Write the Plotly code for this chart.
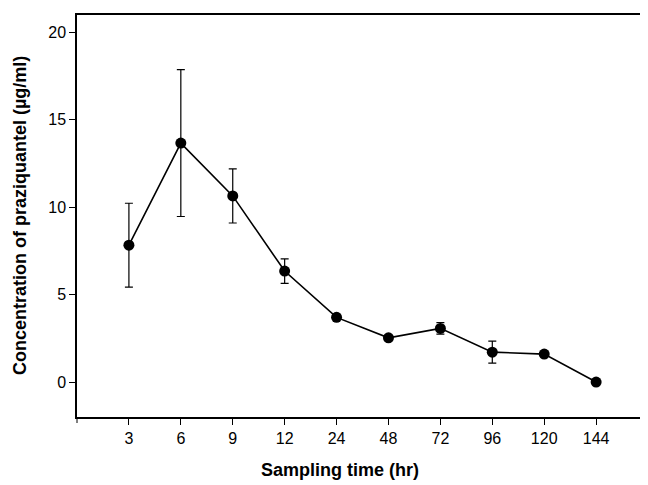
import plotly.graph_objects as go

times = ["3", "6", "9", "12", "24", "48", "72", "96", "120", "144"]
conc = [7.83, 13.67, 10.65, 6.35, 3.70, 2.53, 3.07, 1.71, 1.60, 0.0]
sd = [2.4, 4.2, 1.55, 0.7, 0.1, 0.08, 0.33, 0.63, 0.08, 0.05]
y_ticks = [0, 5, 10, 15, 20]

font_family = "Liberation Sans, Arial, sans-serif"

# page offset (browser body margin)
OFF = 8
W, H = 648 - OFF, 485 - OFF
L, R, T, B = 77 - OFF, 647 - OFF, 15 - OFF, 417 - OFF

fig = go.Figure()
fig.add_trace(go.Scatter(
    x=times, y=conc,
    mode="lines+markers",
    line=dict(color="black", width=1.6),
    marker=dict(color="black", size=11),
    error_y=dict(type="data", array=sd, visible=True, color="black", thickness=1.2, width=4),
    showlegend=False,
))

fig.update_layout(
    width=W, height=H,
    margin=dict(l=L, r=W - R, t=T, b=H - B, autoexpand=False),
    paper_bgcolor="white", plot_bgcolor="white",
    font=dict(family=font_family, color="black", size=16),
    xaxis=dict(
        type="category", categoryorder="array", categoryarray=times,
        range=[-1, 9.98], automargin=False,
        showline=True, linecolor="black", linewidth=1.5, mirror=True,
        ticks="outside", ticklen=6, tickcolor="black", tickwidth=1,
        showgrid=False, zeroline=False,
        tickfont=dict(size=16),
    ),
    yaxis=dict(
        range=[-2, 21], automargin=False,
        tickvals=y_ticks,
        showline=True, linecolor="black", linewidth=1.5, mirror=False,
        ticks="outside", ticklen=6, tickcolor="black", tickwidth=1,
        showgrid=False, zeroline=False,
        tickfont=dict(size=16),
    ),
)

pw, ph = R - L, B - T
fig.add_annotation(
    text="<b>Sampling time (hr)</b>", x=(340 - OFF - L) / pw, y=-(470 - OFF - B) / ph,
    xref="paper", yref="paper", showarrow=False, font=dict(size=18),
    xanchor="center", yanchor="middle",
)
fig.add_annotation(
    text="<b>Concentration of praziquantel (µg/ml)</b>", x=(20 - OFF - L) / pw, y=(B - (216 - OFF)) / ph,
    xref="paper", yref="paper", showarrow=False, font=dict(size=18), textangle=-90,
    xanchor="center", yanchor="middle",
)
# extra tick at left edge of x axis
fig.add_shape(type="line", xref="paper", yref="paper", x0=0, x1=0,
              y0=0, y1=-6 / ph, line=dict(color="black", width=1))
# faint right border as in the scan
fig.add_shape(type="line", xref="paper", yref="paper", x0=1, x1=1,
              y0=0, y1=1, line=dict(color="#c8c8c8", width=1, dash="dot"))

fig.write_html("out.html")
